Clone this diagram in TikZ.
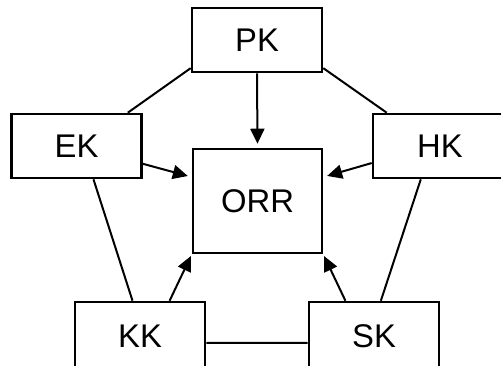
\documentclass[tikz,border=0pt]{standalone}
\usepackage{fontspec}
\setmainfont{Liberation Sans}
\usetikzlibrary{arrows.meta}
\begin{document}
\begin{tikzpicture}[x=.5pt,y=-.5pt,>={Triangle[length=7.5pt,width=7pt]},
	kbox/.style={draw,line width=1.3pt,minimum width=65pt,minimum height=32pt,inner sep=0pt,font=\fontsize{16.4}{20}\selectfont},
	link/.style={line width=1pt}]
		\useasboundingbox (0,0) rectangle (501,365);
		\node[kbox] (pk) at (257,40) {PK};
		\node[kbox] (ek) at (76.5,146) {EK};
		\node[kbox,minimum width=67pt] (hk) at (440,146) {HK};
		\node[kbox,minimum width=64.5pt,minimum height=52pt] (orr) at (257.5,201) {ORR};
		\node[kbox,minimum height=34pt] (kk) at (140,336) {KK};
		\node[kbox,minimum height=34pt] (sk) at (374,336) {SK};
		\draw[link] (pk.203) -- (ek.33) (pk.-23) -- (hk.148);
		\draw[link] (ek.-63) -- (kk.102) (hk.240) -- (sk.79) (kk.-6) -- (sk.186);
		\draw[link,->,shorten >=2pt] (pk.south) -- (orr.north);
		\draw[link,->,shorten >=2pt] (ek.-15) -- (orr.160);
		\draw[link,->,shorten >=2pt] (hk.194) -- (orr.20);
		\draw[link,->,shorten >=1pt] (kk.50) -- (orr.south west);
		\draw[link,->,shorten >=1pt] (sk.129) -- (orr.south east);
\end{tikzpicture}
\end{document}
